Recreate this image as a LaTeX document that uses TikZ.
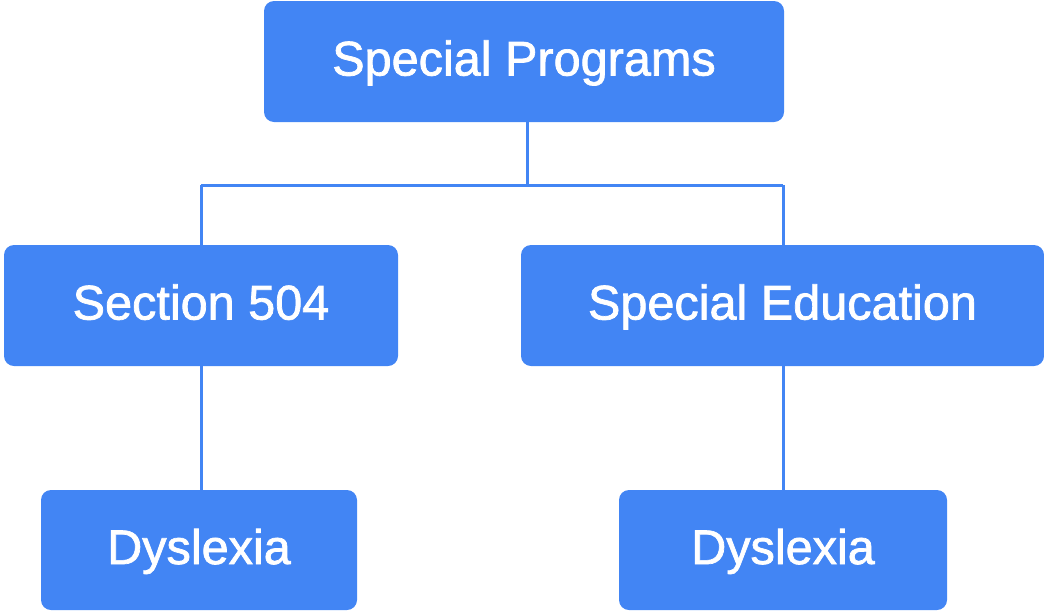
\documentclass[tikz,border=0pt]{standalone}
\usepackage{fontspec}
\newfontfamily\boxfont{Liberation Sans}[FakeBold=1.5]
\definecolor{gblue}{HTML}{4285F4}
\begin{document}
\begin{tikzpicture}[x=1pt,y=-1pt,
  box/.style={fill=gblue, draw=none, rounded corners=10pt, text=white,
    font=\boxfont\fontsize{48.6}{56}\selectfont, inner sep=0pt,
    text height=34pt, text depth=6pt},
  link/.style={draw=gblue, line width=3pt}]
\useasboundingbox (0,0) rectangle (1044,611);
\node[box, minimum width=520pt, minimum height=121pt] (top) at (524,61.5) {Special Programs};
\node[box, minimum width=394pt, minimum height=121pt] (sec) at (201,305.5) {Section 504};
\node[box, minimum width=523pt, minimum height=121pt] (sped) at (782.5,305.5) {Special Education};
\node[box, minimum width=316pt, minimum height=120pt] (dysl) at (199,550) {Dyslexia};
\node[box, minimum width=328pt, minimum height=120pt] (dysr) at (783,550) {Dyslexia};
\coordinate (j) at (527,185);
\coordinate (jl) at (201,185);
\coordinate (jr) at (783,185);
\draw[link] (top.south -| j) -- (j);
\draw[link] (jl) -- (jr);
\draw[link] (jl) -- (sec.north -| jl);
\draw[link] (jr) -- (sped.north -| jr);
\draw[link] (sec.south -| jl) -- (dysl.north -| jl);
\draw[link] (sped.south -| jr) -- (dysr.north -| jr);
\end{tikzpicture}
\end{document}
